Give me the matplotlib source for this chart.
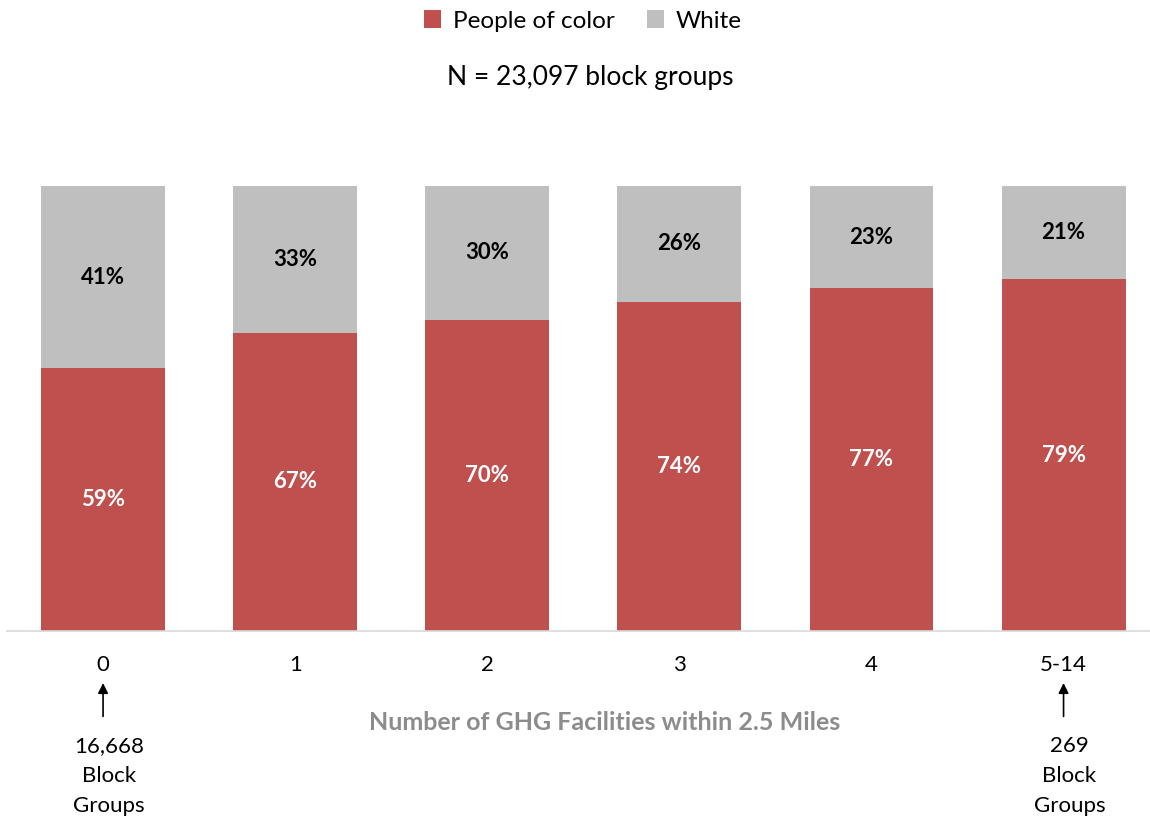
import matplotlib.pyplot as plt

plt.rcParams['font.family'] = ['Lato', 'DejaVu Sans']

categories = ['0', '1', '2', '3', '4', '5-14']
poc = [59, 67, 70, 74, 77, 79]
white = [41, 33, 30, 26, 23, 21]
red = '#C0504D'
grey = '#BFBFBF'

fig = plt.figure(figsize=(11.5, 8.18), dpi=100)
ax = fig.add_axes([7 / 1150, 1 - 631 / 818, 1143 / 1150, 445 / 818])

x = range(len(categories))
ax.bar(x, poc, width=0.645, color=red, label='People of color')
ax.bar(x, white, width=0.645, bottom=poc, color=grey, label='White')

for i in x:
    ax.text(i, poc[i] / 2, '%d%%' % poc[i], ha='center', va='center',
            color='white', fontsize=16, fontweight='bold')
    ax.text(i, poc[i] + white[i] / 2, '%d%%' % white[i], ha='center', va='center',
            color='black', fontsize=16, fontweight='bold')

ax.set_xlim(-0.5, 5.45)
ax.set_ylim(0, 100)
ax.set_yticks([])
ax.set_xticks(list(x))
ax.set_xticklabels(categories, fontsize=16)
ax.tick_params(axis='x', length=0, pad=17)
for s in ['top', 'right', 'left']:
    ax.spines[s].set_visible(False)
ax.spines['bottom'].set_color('#D9D9D9')
ax.spines['bottom'].set_linewidth(1.2)

# x-axis title
fig.text(605 / 1150, 1 - 723 / 818, 'Number of GHG Facilities within 2.5 Miles',
         ha='center', va='center', fontsize=18, fontweight='bold', color='#8C8C8C')

# legend + subtitle
leg = fig.legend(loc='center', bbox_to_anchor=(0.507, 1 - 21 / 818), ncol=2, frameon=False,
                 fontsize=17.5, handlelength=0.7, handleheight=0.7, columnspacing=1.3,
                 handletextpad=0.5)
fig.text(590 / 1150, 1 - 78 / 818, 'N = 23,097 block groups', ha='center', va='center',
         fontsize=19)

# annotations under first and last category
notes = {0: '16,668\nBlock\nGroups', 5: '269\nBlock\nGroups'}
for i, txt in notes.items():
    ax.annotate('', xy=(i, -11.7), xytext=(i, -19.2),
                annotation_clip=False,
                arrowprops=dict(arrowstyle='-|>', color='black', lw=1.2, mutation_scale=15,
                                shrinkA=0, shrinkB=0))
    ax.text(i + 0.03, -32.6, txt, ha='center', va='center', fontsize=16, linespacing=1.62,
            clip_on=False)

fig.savefig('out.png', dpi=100)
